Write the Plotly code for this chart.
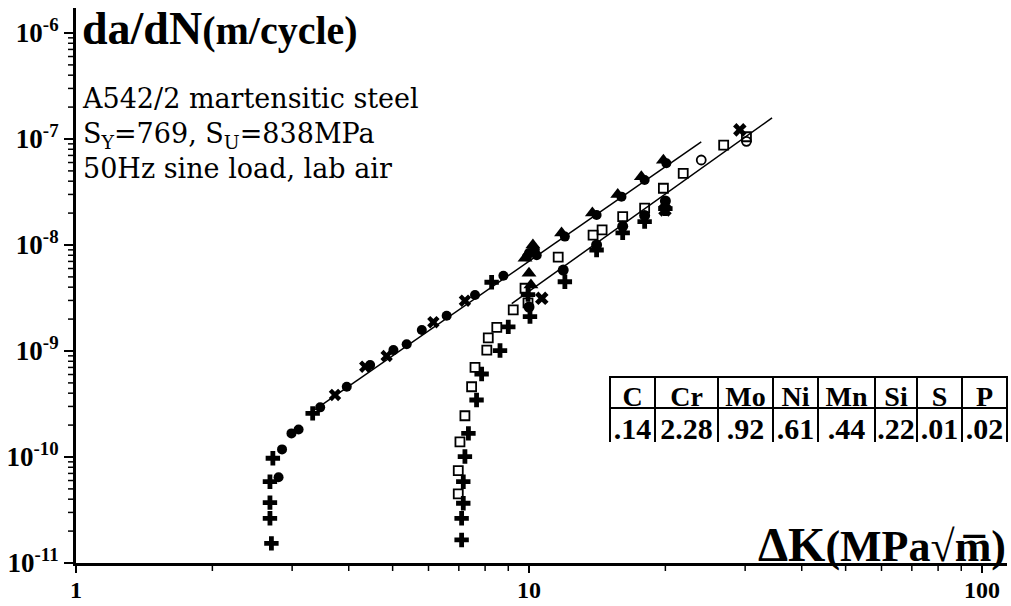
import math
import plotly.graph_objects as go

# ---------------- data (ΔK in MPa√m, da/dN in m/cycle) ----------------
upper_circle_K = [2.80, 2.85, 2.99, 3.10, 3.46, 3.96, 4.46, 5.02, 5.37, 5.80, 6.58, 7.60, 8.78,
                  9.9, 10.0, 10.3, 10.4, 12.0, 14.1, 16.0, 18.0, 20.1]
upper_circle_R = [6.44e-11, 1.18e-10, 1.67e-10, 1.82e-10, 2.94e-10, 4.60e-10, 7.38e-10, 1.02e-9, 1.16e-9,
                  1.58e-9, 2.15e-9, 3.37e-9, 5.13e-9, 7.8e-9, 8.4e-9, 9.0e-9, 8.0e-9, 1.20e-8, 1.92e-8,
                  2.86e-8, 4.10e-8, 5.90e-8]
upper_plus_K = [2.70, 2.68, 2.68, 2.68, 2.72, 3.33, 8.27]
upper_plus_R = [1.53e-11, 2.64e-11, 3.71e-11, 5.85e-11, 9.73e-11, 2.58e-10, 4.45e-9]
upper_x_K = [3.73, 4.35, 4.85, 6.15, 7.22]
upper_x_R = [3.85e-10, 7.11e-10, 8.97e-10, 1.87e-9, 2.98e-9]
upper_tri_K = [9.8, 10.2, 11.8, 13.8, 15.7, 17.7, 19.8, 10.0, 10.1]
upper_tri_R = [7.5e-9, 1.0e-8, 1.3e-8, 2.0e-8, 3.0e-8, 4.4e-8, 6.3e-8, 5.4e-9, 4.2e-9]

lower_sq_K = [6.98, 6.98, 7.04, 7.22, 7.47, 7.60, 8.07, 8.13, 8.49, 9.23, 9.80, 9.95, 11.6,
              13.85, 14.5, 16.1, 18.0, 19.8, 21.9, 26.9, 30.2]
lower_sq_R = [4.48e-11, 7.43e-11, 1.39e-10, 2.45e-10, 4.60e-10, 7.02e-10, 1.02e-9, 1.33e-9, 1.67e-9,
              2.44e-9, 3.91e-9, 2.84e-9, 7.7e-9, 1.24e-8, 1.39e-8, 1.85e-8, 2.23e-8, 3.43e-8, 4.74e-8,
              8.77e-8, 1.05e-7]
lower_plus_K = [7.10, 7.10, 7.16, 7.16, 7.22, 7.35, 7.66, 7.86, 8.63, 9.00, 10.05, 9.95, 12.0,
                14.1, 16.1, 18.0, 20.0]
lower_plus_R = [1.65e-11, 2.64e-11, 3.66e-11, 5.85e-11, 1.01e-10, 1.67e-10, 3.45e-10, 6.07e-10, 1.01e-9,
                1.69e-9, 2.11e-9, 3.4e-9, 4.5e-9, 8.97e-9, 1.30e-8, 1.66e-8, 2.2e-8]
lower_dot_K = [10.0, 11.9, 14.1, 16.1, 18.0, 20.0]
lower_dot_R = [2.6e-9, 5.8e-9, 1.0e-8, 1.5e-8, 1.9e-8, 2.6e-8]
lower_x_K = [10.67, 19.96, 29.2]
lower_x_R = [3.14e-9, 2.14e-8, 1.22e-7]
lower_oc_K = [24.0, 30.2]
lower_oc_R = [6.34e-8, 9.5e-8]

fit_upper_K = [3.37, 24.0]
fit_upper_R = [2.8e-10, 9.4e-8]
fit_lower_K = [9.16, 34.4]
fit_lower_R = [2.8e-9, 1.58e-7]

x_tick_vals = [1, 10, 100]
x_tick_text = ["1", "10", "100"]
y_tick_vals = [1e-11, 1e-10, 1e-9, 1e-8, 1e-7, 1e-6]
y_tick_text = ["10<sup>-11</sup>", "10<sup>-10</sup>", "10<sup>-9</sup>",
               "10<sup>-8</sup>", "10<sup>-7</sup>", "10<sup>-6</sup>"]

table_head = ["C", "Cr", "Mo", "Ni", "Mn", "Si", "S", "P"]
table_vals = [".14", "2.28", ".92", ".61", ".44", ".22", ".01", ".02"]
table_colw = [45, 63, 55, 45, 57, 42, 45, 45]

# ---------------- geometry ----------------
W, H = 1011, 606
ML, MR, MT, MB = 76, 4, 8, 43          # plot-area insets inside the page
PW, PH = W - ML - MR, H - MT - MB
XR = [0, PW / 453.0]
YR = [-11, -11 + PH / 106.0]


def px(x):
    return x / W


def py(y):
    return 1 - y / H


def xpix(v):
    return ML + PW * (math.log10(v) - XR[0]) / (XR[1] - XR[0])


def ypix(v):
    return (H - MB) - PH * (math.log10(v) - YR[0]) / (YR[1] - YR[0])


# minor tick positions (2..9 within each decade) for the log axes
x_minor = [m * 10 ** e for e in range(0, 3) for m in range(2, 10)]
y_minor = [m * 10.0 ** e for e in range(-11, -5) for m in range(2, 10)]

fig = go.Figure()

for K, R in [(fit_upper_K, fit_upper_R), (fit_lower_K, fit_lower_R)]:
    fig.add_trace(go.Scatter(x=K, y=R, mode="lines", line=dict(color="black", width=1.5),
                             showlegend=False, hoverinfo="skip"))

series = [
    (upper_circle_K, upper_circle_R, "circle", 10, 0),
    (upper_tri_K, upper_tri_R, "triangle-up", 13, 0),
    (upper_plus_K, upper_plus_R, "cross", 12, 0),
    (upper_x_K, upper_x_R, "x", 11, 0),
    (lower_dot_K, lower_dot_R, "circle", 11, 0),
    (lower_sq_K, lower_sq_R, "square-open", 9, 1.8),
    (lower_plus_K, lower_plus_R, "cross", 12, 0),
    (lower_x_K, lower_x_R, "x", 12, 0),
    (lower_oc_K, lower_oc_R, "circle-open", 9, 1.8),
]
for K, R, sym, size, lw in series:
    fig.add_trace(go.Scatter(x=K, y=R, mode="markers",
                             marker=dict(symbol=sym, size=size, color="black",
                                         line=dict(color="black", width=lw)),
                             showlegend=False))

# tick marks on a full-page frame subplot (pixel coordinates derived from the log scales)
for xv, yv, ln, w in [(x_tick_vals, y_tick_vals, 10, 2), (x_minor, y_minor, 8, 1.5)]:
    tx, ty = [], []
    for v in xv:
        X = xpix(v)
        if ML - 1 <= X <= W - MR + 1:
            tx += [X, X, None]
            ty += [H - MB, H - MB + ln, None]
    for v in yv:
        Y = ypix(v)
        if MT - 1 <= Y <= H - MB + 1:
            tx += [ML, ML - ln, None]
            ty += [Y, Y, None]
    fig.add_trace(go.Scatter(x=tx, y=ty, xaxis="x2", yaxis="y2", mode="lines",
                             line=dict(color="black", width=w), showlegend=False,
                             hoverinfo="skip"))

fig.add_trace(go.Table(
    domain=dict(x=[px(610), px(1007)], y=[py(443), py(377)]),
    columnwidth=table_colw,
    header=dict(values=table_head, fill_color="white", align="center",
                line=dict(color="black", width=2), height=31,
                font=dict(family="Liberation Serif", size=28, color="black", weight="bold")),
    cells=dict(values=[[v] for v in table_vals], fill_color="white", align="center",
               line=dict(color="black", width=2), height=35,
               font=dict(family="Liberation Serif", size=30, color="black", weight="bold")),
))

serif = "Liberation Serif"
body = "DejaVu Serif"
annotations = [
    dict(x=px(80), y=py(29), xanchor="left", yanchor="middle",
         text="<span style='font-size:46px'>da/dN</span><span style='font-size:40px'>(m/cycle)</span>",
         font=dict(family=serif, size=40, color="black", weight="bold")),
    dict(x=px(80), y=py(133), xanchor="left", yanchor="middle", align="left",
         text="A542/2 martensitic steel<br>S<sub>Y</sub>=769, S<sub>U</sub>=838MPa<br>50Hz sine load, lab air",
         font=dict(family=body, size=27, color="black")),
    dict(x=px(1008), y=py(544), xanchor="right", yanchor="middle",
         text="<span style='font-size:48px'>ΔK</span><span style='font-size:44px'>(MPa√m̅)</span>",
         font=dict(family=serif, size=44, color="black", weight="bold")),
]
for a in annotations:
    a.update(xref="paper", yref="paper", showarrow=False)

major = dict(type="log", showline=True, linewidth=3, linecolor="black", mirror=False,
             ticks="outside", tickwidth=2, tickcolor="black", automargin=False,
             showgrid=False, zeroline=False, tickmode="array")

fig.update_layout(
    width=W, height=H, margin=dict(l=0, r=0, t=0, b=0, pad=0),
    paper_bgcolor="white", plot_bgcolor="rgba(0,0,0,0)",
    xaxis=dict(domain=[ML / W, (W - MR) / W], anchor="y", range=XR, ticklen=3,
               tickvals=x_tick_vals, ticktext=x_tick_text,
               tickfont=dict(family=serif, size=24, color="black", weight="bold"), **major),
    yaxis=dict(domain=[MB / H, (H - MT) / H], anchor="x", range=YR, ticklen=9,
               tickvals=y_tick_vals, ticktext=y_tick_text,
               tickfont=dict(family=serif, size=27, color="black", weight="bold"), **major),
    xaxis2=dict(domain=[0, 1], anchor="y2", range=[0, W], visible=False, fixedrange=True),
    yaxis2=dict(domain=[0, 1], anchor="x2", range=[H, 0], visible=False, fixedrange=True),
    annotations=annotations,
)

fig.write_html("out.html")
